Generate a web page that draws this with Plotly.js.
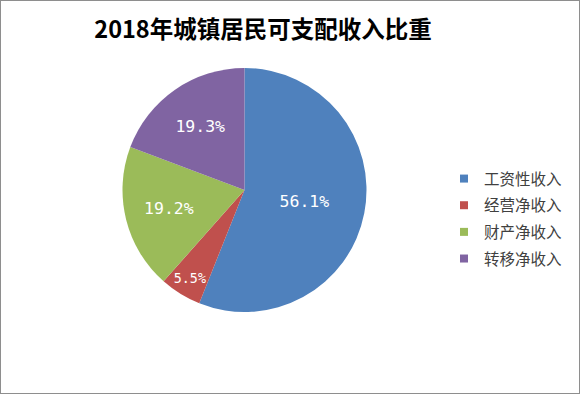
<!DOCTYPE html>
<html><head><meta charset="utf-8">
<script src="https://cdn.plot.ly/plotly-3.0.1.min.js"></script>
<style>
html,body{margin:0;padding:0;background:#fff;}
#wrap{width:580px;height:394px;box-sizing:border-box;border:1px solid #8e8e8e;overflow:hidden;}
#chart{width:578px;height:392px;}
</style></head>
<body><div id="wrap"><div id="chart"></div></div>
<script>
const categories = ['工资性收入', '经营净收入', '财产净收入', '转移净收入'];
const shares = [56.1, 5.5, 19.2, 19.3];
const colors = ['#4F81BD', '#C0504D', '#9BBB59', '#8064A2'];
const titleText = '2018年城镇居民可支配收入比重';

const W = 578, H = 392;
const cx = 243.5, cy = 189, r = 122;

const pie = {
  type: 'pie',
  labels: categories,
  values: shares,
  sort: false,
  direction: 'clockwise',
  rotation: 0,
  marker: {colors: colors, line: {width: 0}},
  texttemplate: '%{value:.1f}%',
  textposition: 'inside',
  insidetextorientation: 'horizontal',
  textfont: {family: 'DejaVu Sans Mono, monospace', size: 16.5, color: '#ffffff'},
  hoverinfo: 'label+value',
  showlegend: false,
  domain: {x: [(cx - r) / W, (cx + r) / W], y: [1 - (cy + r) / H, 1 - (cy - r) / H]}
};

// legend entries (one per category, same colours as the slices)
const legendTraces = categories.map((c, i) => ({
  type: 'scatter', mode: 'markers',
  x: [null], y: [null],
  name: c, legendgroup: 'g' + i,
  marker: {symbol: 'square', size: 8, color: colors[i]},
  hoverinfo: 'skip', showlegend: true
}));

const layout = {
  width: W, height: H,
  margin: {l: 0, r: 0, t: 0, b: 0},
  paper_bgcolor: '#ffffff',
  plot_bgcolor: 'rgba(0,0,0,0)',
  xaxis: {visible: false, domain: [0.98, 1]},
  yaxis: {visible: false, domain: [0.98, 1]},
  showlegend: true,
  title: {
    text: '<b>' + titleText + '</b>',
    font: {family: 'Noto Sans CJK SC, sans-serif', size: 23.5, color: '#000000'},
    x: 262 / W, xanchor: 'center', xref: 'container',
    y: 1 - 29 / H, yanchor: 'middle', yref: 'container'
  },
  legend: {
    x: 443 / W, xanchor: 'left',
    y: 1 - 161 / H, yanchor: 'top',
    tracegroupgap: 3.5,
    font: {family: 'Noto Sans CJK SC, sans-serif', size: 15.5, color: '#404040'},
    itemclick: false
  }
};

Plotly.newPlot('chart', [pie].concat(legendTraces), layout, {displayModeBar: false, staticPlot: true});
</script></body></html>
